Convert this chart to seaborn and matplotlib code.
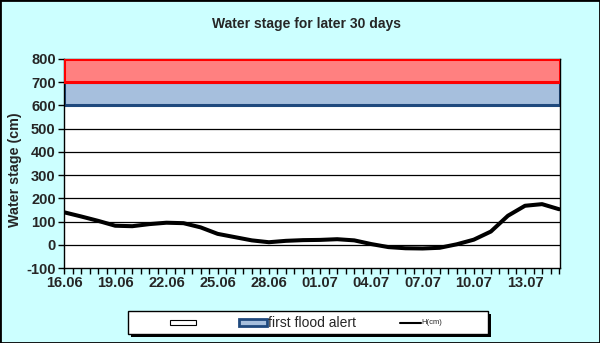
import matplotlib
matplotlib.use("Agg")
import matplotlib.pyplot as plt
from matplotlib.patches import Rectangle
from matplotlib.lines import Line2D
import numpy as np
import pandas as pd
import seaborn as sns

# ---- data ----
days = list(range(30))
water_level = [140, 122, 103, 82, 80, 89, 95, 93, 75, 47,
               33, 19, 11, 17, 20, 21, 24, 19, 3, -10,
               -15, -16, -13, 2, 22, 57, 125, 168, 175, 153]
tick_days = [0, 3, 6, 9, 12, 15, 18, 21, 24, 27]
tick_labels = ["16.06", "19.06", "22.06", "25.06", "28.06",
               "01.07", "04.07", "07.07", "10.07", "13.07"]
alert_low = [600, 700]
alert_high = [700, 800]
y_ticks = list(range(-100, 801, 100))

sns.set_theme(style="white")
plt.rcParams['font.family'] = ['Liberation Sans', 'DejaVu Sans']

W, H = 600, 343
fig = plt.figure(figsize=(W / 100, H / 100), dpi=100)
fig.patch.set_facecolor("#CCFFFF")
fig.add_artist(Rectangle((0, 0), 1, 1, transform=fig.transFigure, fill=False,
                         edgecolor="black", linewidth=2, zorder=0))

ax = fig.add_axes([64 / W, (H - 268) / H, (560 - 64) / W, (268 - 59) / H])
ax.set_facecolor("white")

# grid
for yv in y_ticks[1:-2]:
    ax.axhline(yv, color="black", linewidth=0.9, zorder=1)

# bands
ax.axhspan(alert_low[0], alert_low[1], facecolor="#A6BFDD", edgecolor="#1F497D",
           linewidth=2.2, zorder=2)
ax.axhspan(alert_high[0], alert_high[1], facecolor="#FF8080", edgecolor="#FF0000",
           linewidth=2.2, zorder=3)

df = pd.DataFrame({"day": days, "H": water_level})
sns.lineplot(data=df, x="day", y="H", color="black", linewidth=2.9, ax=ax, zorder=4)

ax.set_xlim(0, 29.05)
ax.set_ylim(-100, 800)
ax.set_yticks(y_ticks)
ax.set_yticklabels([str(v) for v in y_ticks], fontsize=10.5, fontweight="bold")
ax.set_xticks(tick_days)
ax.set_xticklabels(tick_labels, fontsize=10.5, fontweight="bold")
ax.set_xticks(np.arange(0, 29.1, 0.5), minor=True)
ax.tick_params(axis="both", which="both", direction="out", length=4, width=1,
               color="black", bottom=True, left=True, pad=2)
ax.set_xlabel("")
ax.set_ylabel("Water stage (cm)", fontsize=10.3, fontweight="bold")
ax.yaxis.set_label_coords((22 - 64) / 496, (268 - 170) / 209)
for s in ax.spines.values():
    s.set_color("black")
    s.set_linewidth(1)

fig.text(307 / W, 1 - 24 / H, "Water stage for later 30 days", ha="center", va="center",
         fontsize=10, fontweight="bold")


# ---- legend (drawn in figure pixel coordinates) ----
def px(x, y):
    return (x / W, 1 - y / H)


def box(x0, y0, x1, y1, **kw):
    (fx0, fy1), (fx1, fy0) = px(x0, y0), px(x1, y1)
    fig.add_artist(Rectangle((fx0, fy0), fx1 - fx0, fy1 - fy0,
                             transform=fig.transFigure, **kw))


box(131, 314, 491, 337, facecolor="black", edgecolor="none", zorder=5)
box(128, 311, 488, 334, facecolor="white", edgecolor="black", linewidth=1, zorder=6)
box(170, 320, 196, 325, facecolor="white", edgecolor="black", linewidth=0.8, zorder=7)
box(239, 319, 267, 326, facecolor="#A6BFDD", edgecolor="#1F497D", linewidth=2, zorder=7)
fig.text(268 / W, 1 - 323 / H, "first flood alert", ha="left", va="center",
         fontsize=10, zorder=8)
fig.add_artist(Line2D([400 / W, 421 / W], [1 - 322.5 / H, 1 - 322.5 / H],
                      transform=fig.transFigure, color="black", linewidth=1.5, zorder=8))
fig.text(421 / W, 1 - 323 / H, "H(cm)", ha="left", va="center", fontsize=5.5, zorder=8)

fig.savefig("out.png", dpi=100, facecolor=fig.get_facecolor())
